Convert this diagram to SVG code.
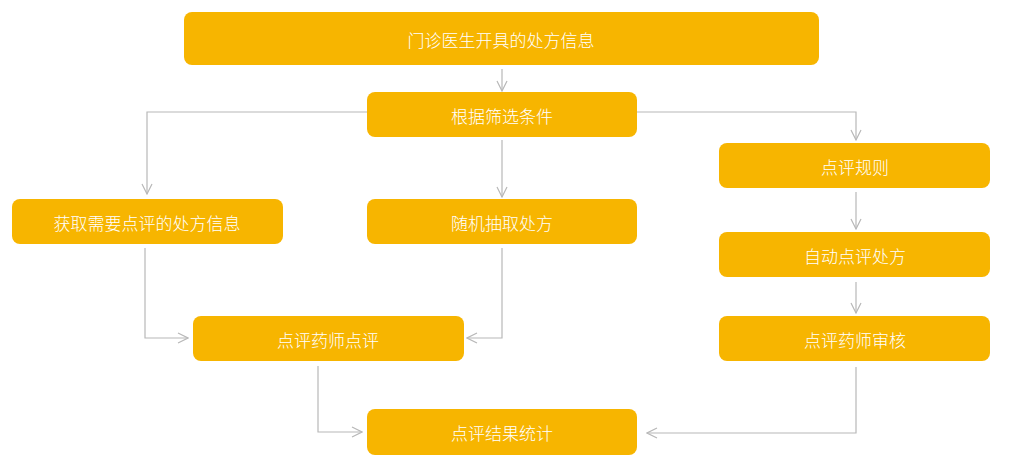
<svg xmlns="http://www.w3.org/2000/svg" width="1012" height="476" viewBox="0 0 1012 476">
<defs>
<style>
.box{fill:#F7B500;}
.lbl{fill:#ffffff;font-family:"Noto Sans CJK SC","Noto Sans",sans-serif;font-size:17px;font-weight:300;text-anchor:middle;dominant-baseline:central;}
.ln{fill:none;stroke:#b8b8b8;stroke-width:1.2;marker-end:url(#ah);}
</style>
<marker id="ah" viewBox="0 0 12 12" refX="11" refY="6" markerWidth="12" markerHeight="12" markerUnits="userSpaceOnUse" orient="auto">
<path d="M1,1 L11,6 L1,11" fill="none" stroke="#b8b8b8" stroke-width="1.2"/>
</marker>
</defs>
<rect width="1012" height="476" fill="#ffffff"/>
<g id="connectors">
<path class="ln" d="M502,69 V91"/>
<path class="ln" d="M367,112 H147 V194"/>
<path class="ln" d="M502,140 V197"/>
<path class="ln" d="M637,112 H856 V140"/>
<path class="ln" d="M856,192 V229"/>
<path class="ln" d="M856,282 V313"/>
<path class="ln" d="M145,248 V338 H188"/>
<path class="ln" d="M502,248 V338 H467"/>
<path class="ln" d="M318,366 V432 H362"/>
<path class="ln" d="M856,367 V433 H647"/>
</g>
<g id="n1"><rect class="box" x="184" y="12" width="635" height="53" rx="8"/><text class="lbl" x="501" y="39">门诊医生开具的处方信息</text></g>
<g id="n2"><rect class="box" x="367" y="92" width="270" height="45" rx="8"/><text class="lbl" x="502" y="115">根据筛选条件</text></g>
<g id="n3"><rect class="box" x="12" y="199" width="271" height="45" rx="8"/><text class="lbl" x="147" y="222">获取需要点评的处方信息</text></g>
<g id="n4"><rect class="box" x="367" y="199" width="270" height="45" rx="8"/><text class="lbl" x="502" y="222">随机抽取处方</text></g>
<g id="n5"><rect class="box" x="719" y="143" width="271" height="45" rx="8"/><text class="lbl" x="855" y="166">点评规则</text></g>
<g id="n6"><rect class="box" x="719" y="232" width="271" height="45" rx="8"/><text class="lbl" x="855" y="255">自动点评处方</text></g>
<g id="n7"><rect class="box" x="719" y="316" width="271" height="45" rx="8"/><text class="lbl" x="855" y="339">点评药师审核</text></g>
<g id="n8"><rect class="box" x="193" y="316" width="271" height="45" rx="8"/><text class="lbl" x="328" y="339">点评药师点评</text></g>
<g id="n9"><rect class="box" x="367" y="409" width="270" height="46" rx="8"/><text class="lbl" x="502" y="432">点评结果统计</text></g>
</svg>
